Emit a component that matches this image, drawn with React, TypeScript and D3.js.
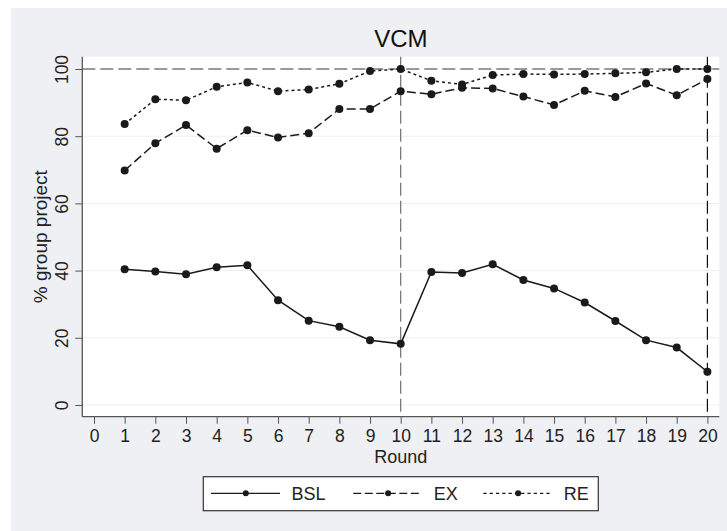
import React, { useEffect, useRef } from "react";
import * as d3 from "d3";

const rounds = [1, 2, 3, 4, 5, 6, 7, 8, 9, 10, 11, 12, 13, 14, 15, 16, 17, 18, 19, 20];
const bsl = [40.4, 39.7, 38.9, 41.0, 41.6, 31.2, 25.1, 23.3, 19.3, 18.2, 39.6, 39.3, 41.9, 37.2, 34.7, 30.5, 25.0, 19.3, 17.1, 9.9];
const ex = [69.8, 77.9, 83.3, 76.3, 81.8, 79.6, 80.9, 88.1, 88.1, 93.4, 92.5, 94.4, 94.2, 91.8, 89.3, 93.5, 91.7, 95.7, 92.2, 97.0];
const re = [83.6, 91.0, 90.7, 94.7, 96.0, 93.4, 93.9, 95.6, 99.4, 100, 96.5, 95.4, 98.2, 98.5, 98.4, 98.5, 98.7, 99.0, 100, 100];
const seriesNames = ["BSL", "EX", "RE"];
const xTicks = [0, 1, 2, 3, 4, 5, 6, 7, 8, 9, 10, 11, 12, 13, 14, 15, 16, 17, 18, 19, 20];
const yTicks = [0, 20, 40, 60, 80, 100];
const vLines = [10, 20];

const FONT = "'Liberation Sans', Arial, Helvetica, sans-serif";

const App = () => {
  const svgRef = useRef<SVGSVGElement>(null);

  useEffect(() => {
    const width = 727;
    const height = 531;
    const plot = { left: 82.3, right: 719.3, top: 56.7, bottom: 416.7 };

    const svg = d3.select(svgRef.current);
    svg.selectAll("*").remove();

    // background
    svg.append("rect").attr("width", width).attr("height", height).attr("fill", "#fff");
    svg.append("rect").attr("x", 11).attr("y", 8).attr("width", width - 11).attr("height", height - 8).attr("fill", "#eff0f3");
    svg.append("rect")
      .attr("x", plot.left).attr("y", plot.top)
      .attr("width", plot.right - plot.left).attr("height", plot.bottom - plot.top)
      .attr("fill", "#fff");

    const x = d3.scaleLinear().domain([0, 20]).range([94, 707.4]);
    const y = d3.scaleLinear().domain([0, 100]).range([405, 69]);

    // grid
    svg.append("g")
      .selectAll("line")
      .data(yTicks.filter(d => d < 100))
      .enter()
      .append("line")
      .attr("x1", plot.left).attr("x2", plot.right)
      .attr("y1", d => y(d)).attr("y2", d => y(d))
      .attr("stroke", "#eeeeee").attr("stroke-width", 1);

    // reference lines
    svg.append("line")
      .attr("x1", plot.left).attr("x2", plot.right)
      .attr("y1", y(100)).attr("y2", y(100))
      .attr("stroke", "#7a7a7a").attr("stroke-width", 1.3)
      .attr("stroke-dasharray", "13,5");

    svg.append("g")
      .selectAll("line")
      .data(vLines)
      .enter()
      .append("line")
      .attr("x1", d => x(d)).attr("x2", d => x(d))
      .attr("y1", plot.top).attr("y2", plot.bottom)
      .attr("stroke", d => (d === 20 ? "#111" : "#6e6e6e"))
      .attr("stroke-width", 1.2)
      .attr("stroke-dasharray", "13,5");

    // axes
    const xAxis = d3.axisBottom(x).tickValues(xTicks).tickSize(7).tickSizeOuter(0);
    const gx = svg.append("g").attr("transform", `translate(0,${plot.bottom})`).call(xAxis);
    gx.select(".domain").remove();
    gx.selectAll(".tick line").attr("stroke", "#555");
    gx.selectAll(".tick text")
      .attr("font-family", FONT).attr("font-size", 17.5).attr("fill", "#222")
      .attr("y", 0).attr("dy", 0).attr("transform", "translate(0,25.6)");

    const yAxis = d3.axisLeft(y).tickValues(yTicks).tickSize(7).tickSizeOuter(0);
    const gy = svg.append("g").attr("transform", `translate(${plot.left},0)`).call(yAxis);
    gy.select(".domain").remove();
    gy.selectAll(".tick line").attr("stroke", "#555");
    gy.selectAll(".tick text")
      .attr("font-family", FONT).attr("font-size", 17.5).attr("fill", "#222")
      .attr("x", 0).attr("dy", 0).attr("text-anchor", "middle")
      .attr("transform", "translate(-14,0) rotate(-90)");

    // axis lines
    svg.append("line").attr("x1", plot.left).attr("x2", plot.left).attr("y1", plot.top).attr("y2", plot.bottom)
      .attr("stroke", "#555").attr("stroke-width", 1.3);
    svg.append("line").attr("x1", plot.left).attr("x2", plot.right).attr("y1", plot.bottom).attr("y2", plot.bottom)
      .attr("stroke", "#555").attr("stroke-width", 1.3);

    // titles
    svg.append("text").attr("x", 400.8).attr("y", 47.3).attr("text-anchor", "middle")
      .attr("font-family", FONT).attr("font-size", 24).attr("fill", "#111").text("VCM");
    svg.append("text").attr("x", 400.8).attr("y", 462.7).attr("text-anchor", "middle")
      .attr("font-family", FONT).attr("font-size", 18).attr("fill", "#222").text("Round");
    svg.append("text")
      .attr("transform", `translate(46.7,${(plot.top + plot.bottom) / 2}) rotate(-90)`)
      .attr("text-anchor", "middle")
      .attr("font-family", FONT).attr("font-size", 19).attr("fill", "#222").text("% group project");

    // series
    const series = [
      { name: seriesNames[0], values: bsl, dash: null },
      { name: seriesNames[1], values: ex, dash: "9,4" },
      { name: seriesNames[2], values: re, dash: "3,3" },
    ];

    const line = d3.line<number>()
      .x((d, i) => x(rounds[i]))
      .y(d => y(d));

    series.forEach(s => {
      svg.append("path")
        .attr("d", line(s.values))
        .attr("fill", "none")
        .attr("stroke", "#1a1a1a")
        .attr("stroke-width", 1.5)
        .attr("stroke-dasharray", s.dash);
      svg.append("g")
        .selectAll("circle")
        .data(s.values)
        .enter()
        .append("circle")
        .attr("cx", (d, i) => x(rounds[i]))
        .attr("cy", d => y(d))
        .attr("r", 4)
        .attr("fill", "#1a1a1a");
    });

    // legend
    const lg = svg.append("g");
    lg.append("rect")
      .attr("x", 203.3).attr("y", 476.7).attr("width", 395).attr("height", 34)
      .attr("fill", "#fff").attr("stroke", "#333").attr("stroke-width", 1.2);
    const legendX = [211, 353.3, 483.3];
    const ly = 493.3;
    series.forEach((s, i) => {
      const x0 = legendX[i];
      lg.append("line")
        .attr("x1", x0).attr("x2", x0 + 69).attr("y1", ly).attr("y2", ly)
        .attr("stroke", "#1a1a1a").attr("stroke-width", 1.3)
        .attr("stroke-dasharray", s.dash ? (i === 1 ? "8,3.5" : "3.3,3") : null);
      lg.append("circle").attr("cx", x0 + 34.8).attr("cy", ly).attr("r", 3).attr("fill", "#1a1a1a");
      lg.append("text")
        .attr("x", x0 + 80.5).attr("y", ly + 6.4)
        .attr("font-family", FONT).attr("font-size", 18).attr("fill", "#222")
        .text(s.name);
    });
  }, []);

  return (
    <svg
      ref={svgRef}
      width={727}
      height={531}
      style={{ position: "absolute", left: 0, top: 0 }}
    ></svg>
  );
};

export default App;
